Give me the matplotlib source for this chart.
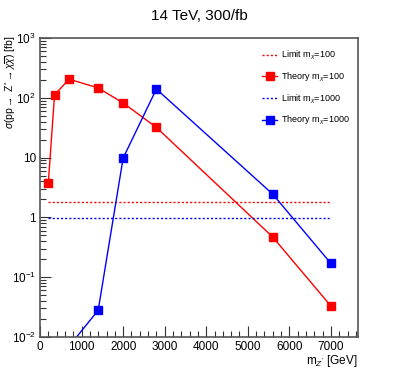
import matplotlib
matplotlib.use("Agg")
import matplotlib.pyplot as plt
from matplotlib.ticker import FixedLocator, MultipleLocator, NullFormatter, LogLocator

plt.rcParams["font.family"] = ["Liberation Sans", "DejaVu Sans"]
plt.rcParams["mathtext.fontset"] = "custom"
plt.rcParams["mathtext.rm"] = "Liberation Sans"
plt.rcParams["mathtext.it"] = "Liberation Sans:italic"
plt.rcParams["mathtext.sf"] = "Liberation Sans"
plt.rcParams["mathtext.fallback"] = "stixsans"

# ── Data ──────────────────────────────────────────────────────────────────────
mass_theory_100 = [200, 350, 700, 1400, 2000, 2800, 5600, 7000]
xsec_theory_100 = [3.8, 112, 205, 146, 82, 32, 0.47, 0.033]

mass_theory_1000 = [700, 1400, 2000, 2800, 5600, 7000]
xsec_theory_1000 = [0.007, 0.028, 9.8, 140, 2.45, 0.17]

mass_limit = [200, 7000]
limit_100 = [1.8, 1.8]
limit_1000 = [0.98, 0.98]

RED = "#ff0000"
BLUE = "#0000ff"

# ── Plot ──────────────────────────────────────────────────────────────────────
fig = plt.figure(figsize=(3.99, 3.75), dpi=100)
ax = fig.add_axes([0.1003, 0.1013, 0.7967, 0.7974])

ax.plot(mass_limit, limit_100, color=RED, linestyle=(0, (1.5, 1.5)), linewidth=1.0,
        label=r"Limit m$_{\chi}$=100")
ax.plot(mass_theory_100, xsec_theory_100, color=RED, linewidth=1.0, marker="s",
        markersize=6.2, label=r"Theory m$_{\chi}$=100")
ax.plot(mass_limit, limit_1000, color=BLUE, linestyle=(0, (1.5, 1.5)), linewidth=1.0,
        label=r"Limit m$_{\chi}$=1000")
ax.plot(mass_theory_1000, xsec_theory_1000, color=BLUE, linewidth=1.0, marker="s",
        markersize=6.2, label=r"Theory m$_{\chi}$=1000")

ax.set_yscale("log")
ax.set_xlim(0, 7650)
ax.set_ylim(1e-2, 1e3)

# ROOT-style ticks
ax.xaxis.set_major_locator(MultipleLocator(1000))
ax.xaxis.set_minor_locator(MultipleLocator(200))
ax.yaxis.set_major_locator(FixedLocator([1e-2, 1e-1, 1, 10, 1e2, 1e3]))
ax.yaxis.set_minor_locator(LogLocator(base=10, subs=range(2, 10)))
ax.yaxis.set_minor_formatter(NullFormatter())
ax.set_yticklabels([r"10$^{-2}$", r"10$^{-1}$", "1", "10", r"10$^{2}$", r"10$^{3}$"])
ax.tick_params(which="both", direction="in", labelsize=8.5, color="#333333",
               top=False, right=False)
ax.tick_params(which="major", length=8, width=0.8, pad=3)
ax.tick_params(which="minor", length=4, width=0.8)
for s in ax.spines.values():
    s.set_color("#555555")
    s.set_linewidth(1.2)

ax.set_xlabel(r"m$_{Z'}$ [GeV]", fontsize=8.5, loc="right", labelpad=0)
fig.text(0.027, 0.905, r"$\sigma$(pp$\rightarrow$ Z'$\rightarrow\chi\overline{\chi}$) [fb]",
         fontsize=7.5, rotation=90, ha="center", va="top")

leg = ax.legend(loc="upper right", bbox_to_anchor=(1.0, 0.99), frameon=False,
                fontsize=6.5, handlelength=1.7, labelspacing=0.95, handletextpad=0.4,
                markerscale=0.9)

fig.suptitle("14 TeV, 300/fb", fontsize=11, y=0.975)

fig.savefig("out.png", dpi=100)
